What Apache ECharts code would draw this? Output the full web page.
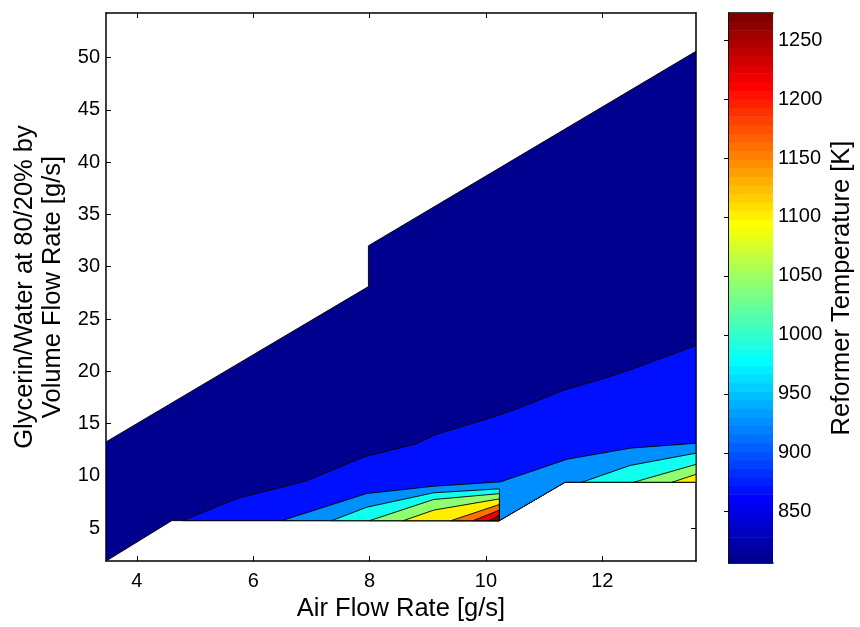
<!DOCTYPE html>
<html>
<head>
<meta charset="utf-8">
<script src="https://cdn.jsdelivr.net/npm/echarts@6/dist/echarts.min.js"></script>
<style>
  html, body { margin: 0; padding: 0; background: #ffffff; }
  #chart { width: 860px; height: 627px; }
</style>
</head>
<body>
<div id="chart"></div>
<script>
// ---- axis extents and ticks ----
const airRange = [3.47, 13.61];          // Air Flow Rate [g/s]
const glyRange = [1.85, 54.26];          // Glycerin/Water flow [g/s]
const airTicks = [4, 6, 8, 10, 12];
const glyTicks = [5, 10, 15, 20, 25, 30, 35, 40, 45, 50];
const tempRange = [806.5, 1273.0];       // colour scale [K]
const tempTicks = [850, 900, 950, 1000, 1050, 1100, 1150, 1200, 1250];

// contour levels [K]; each filled region takes the colour of its lower level
const contourLevels = [806.5, 864.9, 923.2, 981.5, 1039.8, 1098.1, 1156.4, 1214.7, 1273.0];

// ---- filled contour regions, vertices as [air, glycerin] ----
const regionL0 = [[3.47, 1.85], [4.60, 5.72], [10.23, 5.72], [11.36, 9.39], [13.61, 9.39],
                  [13.61, 50.6], [7.98, 32.0], [7.98, 28.1], [3.47, 13.25]];
const regionL1 = [[4.79, 5.72], [5.72, 7.84], [6.90, 9.50], [7.91, 11.82], [8.81, 13.08],
                  [9.13, 13.94], [10.25, 15.85], [10.76, 16.90], [11.36, 18.24], [11.96, 19.20],
                  [12.48, 20.14], [13.61, 22.47], [13.61, 9.39], [11.36, 9.39], [10.23, 5.72]];
const regionL2 = [[6.49, 5.72], [7.95, 8.31], [9.10, 9.01], [10.25, 9.43], [11.40, 11.60],
                  [12.48, 12.65], [13.61, 13.12], [13.61, 9.39], [11.36, 9.39], [10.23, 5.72]];
const regionL3a = [[7.35, 5.72], [7.95, 7.00], [9.10, 8.38], [10.23, 8.76], [10.23, 5.72]];
const regionL3b = [[11.65, 9.39], [12.48, 11.00], [13.61, 12.17], [13.61, 9.39]];
const regionL4a = [[8.00, 5.72], [9.10, 7.74], [10.23, 8.30], [10.23, 5.72]];
const regionL4b = [[12.54, 9.39], [13.61, 11.10], [13.61, 9.39]];
const regionL5a = [[8.58, 5.72], [9.10, 6.72], [10.23, 7.80], [10.23, 5.72]];
const regionL5b = [[13.20, 9.39], [13.61, 10.15], [13.61, 9.39]];
const regionL6 = [[9.40, 5.72], [10.23, 7.26], [10.23, 5.72]];
const regionL7 = [[9.78, 5.72], [10.23, 6.72], [10.23, 5.72]];
const regionL8 = [[10.05, 5.72], [10.23, 6.22], [10.23, 5.72]];

// drawing order: lower levels first, higher levels painted on top
const regions = [
  { level: 0, points: regionL0 },
  { level: 1, points: regionL1 },
  { level: 2, points: regionL2 },
  { level: 3, points: regionL3a },
  { level: 3, points: regionL3b },
  { level: 4, points: regionL4a },
  { level: 4, points: regionL4b },
  { level: 5, points: regionL5a },
  { level: 5, points: regionL5b },
  { level: 6, points: regionL6 },
  { level: 7, points: regionL7 },
  { level: 8, points: regionL8 }
];

// ---- 64-entry jet colormap ----
const CMAP_N = 64;
function jetRamp(j) {
  if (j < 1) return 0;
  if (j <= 16) return j / 16;
  if (j <= 31) return 1;
  if (j <= 47) return (48 - j) / 16;
  return 0;
}
function jetRow(k) { // k = 1..64
  const r = jetRamp(k - 24), g = jetRamp(k - 8), b = jetRamp(k + 8);
  const h = v => Math.round(v * 255);
  return 'rgb(' + h(r) + ',' + h(g) + ',' + h(b) + ')';
}
function colorFor(value) {
  let k = Math.floor((value - tempRange[0]) / (tempRange[1] - tempRange[0]) * CMAP_N) + 1;
  k = Math.max(1, Math.min(CMAP_N, k));
  return jetRow(k);
}
const cbarSteps = Array.from({ length: CMAP_N }, (_, i) => i);

const FONT = "'Liberation Sans', Arial, Helvetica, sans-serif";
const AXIS_LINE = { show: true, lineStyle: { color: '#000', width: 1.5 } };
const TICK = (vals) => ({ show: true, inside: true, length: 5, customValues: vals,
                          lineStyle: { color: '#000', width: 1 } });
const LABEL = (vals, margin) => ({ show: true, customValues: vals, color: '#000',
                                   fontSize: 20, fontFamily: FONT, margin: margin,
                                   formatter: v => String(v) });
const NOLABEL = { show: false };
const NAME_STYLE = { color: '#000', fontSize: 25.5, fontFamily: FONT };

const chart = echarts.init(document.getElementById('chart'), null, { renderer: 'canvas' });

chart.setOption({
  animation: false,
  backgroundColor: '#ffffff',
  grid: [
    { left: 106, top: 13, width: 590, height: 549, containLabel: false },
    { left: 729, top: 13, width: 44, height: 550, containLabel: false }
  ],
  xAxis: [
    {
      gridIndex: 0, type: 'value', position: 'bottom',
      min: airRange[0], max: airRange[1],
      axisLine: AXIS_LINE, axisTick: TICK(airTicks), axisLabel: LABEL(airTicks, 10),
      splitLine: { show: false },
      name: 'Air Flow Rate [g/s]', nameLocation: 'middle', nameGap: 33,
      nameTextStyle: NAME_STYLE
    },
    {
      gridIndex: 0, type: 'value', position: 'top',
      min: airRange[0], max: airRange[1],
      axisLine: AXIS_LINE, axisTick: TICK(airTicks), axisLabel: NOLABEL,
      splitLine: { show: false }
    },
    {
      gridIndex: 1, type: 'value', position: 'bottom', min: 0, max: 1,
      axisLine: AXIS_LINE, axisTick: { show: false }, axisLabel: NOLABEL,
      splitLine: { show: false }
    },
    {
      gridIndex: 1, type: 'value', position: 'top', min: 0, max: 1,
      axisLine: AXIS_LINE, axisTick: { show: false }, axisLabel: NOLABEL,
      splitLine: { show: false }
    }
  ],
  yAxis: [
    {
      gridIndex: 0, type: 'value', position: 'left',
      min: glyRange[0], max: glyRange[1],
      axisLine: AXIS_LINE, axisTick: TICK(glyTicks), axisLabel: LABEL(glyTicks, 6),
      splitLine: { show: false },
      name: 'Glycerin/Water at 80/20% by\nVolume Flow Rate [g/s]',
      nameLocation: 'middle', nameGap: 33, nameRotate: 90,
      nameTextStyle: Object.assign({ lineHeight: 28, align: 'center' }, NAME_STYLE)
    },
    {
      gridIndex: 0, type: 'value', position: 'right',
      min: glyRange[0], max: glyRange[1],
      axisLine: AXIS_LINE, axisTick: TICK(glyTicks), axisLabel: NOLABEL,
      splitLine: { show: false }
    },
    {
      gridIndex: 1, type: 'value', position: 'left',
      min: tempRange[0], max: tempRange[1],
      axisLine: AXIS_LINE, axisTick: TICK(tempTicks), axisLabel: NOLABEL,
      splitLine: { show: false }
    },
    {
      gridIndex: 1, type: 'value', position: 'right',
      min: tempRange[0], max: tempRange[1],
      axisLine: AXIS_LINE, axisTick: TICK(tempTicks), axisLabel: LABEL(tempTicks, 5),
      splitLine: { show: false },
      name: 'Reformer Temperature [K]', nameLocation: 'middle', nameGap: 56, nameRotate: 90,
      nameTextStyle: NAME_STYLE
    }
  ],
  series: [
    {
      // filled contour bands
      type: 'custom',
      xAxisIndex: 0, yAxisIndex: 0,
      clip: true,
      silent: true,
      z: 1,
      data: regions.map(r => [r.points[0][0], r.points[0][1], r.level]),
      renderItem: function (params, api) {
        const reg = regions[params.dataIndex];
        return {
          type: 'polygon',
          shape: { points: reg.points.map(p => api.coord(p)) },
          style: { fill: colorFor(contourLevels[reg.level]), stroke: '#000', lineWidth: 0.9 }
        };
      }
    },
    {
      // colour bar
      type: 'custom',
      xAxisIndex: 2, yAxisIndex: 2,
      silent: true,
      z: 1,
      data: cbarSteps.map(i => [0, tempRange[0] + i * (tempRange[1] - tempRange[0]) / CMAP_N]),
      renderItem: function (params, api) {
        const i = cbarSteps[params.dataIndex];
        const step = (tempRange[1] - tempRange[0]) / CMAP_N;
        const lo = tempRange[0] + i * step, hi = lo + step;
        const p0 = api.coord([0, hi]);
        const p1 = api.coord([1, lo]);
        return {
          type: 'rect',
          shape: { x: p0[0], y: p0[1], width: p1[0] - p0[0], height: p1[1] - p0[1] + 0.6 },
          style: { fill: jetRow(i + 1), stroke: null }
        };
      }
    }
  ]
});
</script>
</body>
</html>
